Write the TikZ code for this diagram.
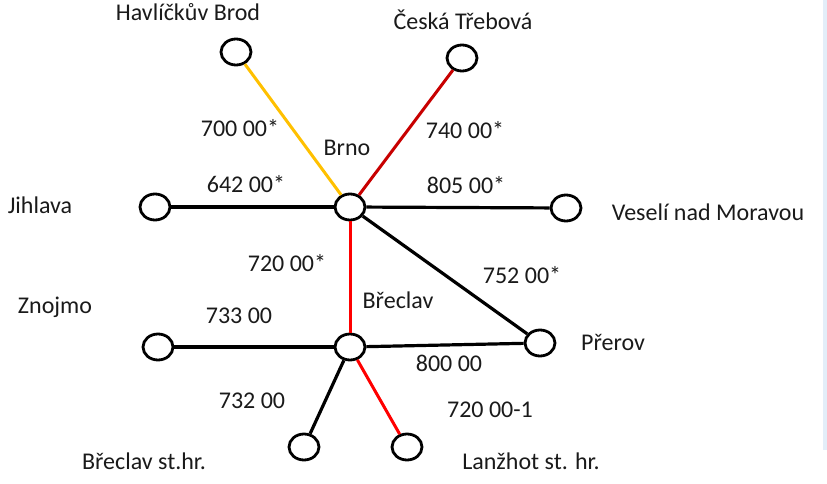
\documentclass[tikz,border=0pt]{standalone}
\usepackage{fontspec}
\setmainfont{Carlito}
\usetikzlibrary{shapes.geometric}
\definecolor{lnYellow}{HTML}{FFC000}
\definecolor{lnDarkRed}{HTML}{C80000}
\definecolor{lnRed}{HTML}{FF0000}
\definecolor{txtGrey}{HTML}{1A1A1A}
\definecolor{edgeBlue}{HTML}{E3EEF9}
\tikzset{
  % stations are open rings, tracks are plain thick strokes
  station/.style  = {ellipse, draw=black, fill=white, line width=2.8pt,
                     minimum width=30pt, minimum height=26pt, inner sep=0},
  track/.style    = {line width=3.2pt, black},
  trackY/.style   = {line width=3pt, lnYellow},
  trackDR/.style  = {line width=3pt, lnDarkRed},
  trackR/.style   = {line width=3pt, lnRed},
  lbl/.style      = {font=\fontsize{24}{28}\selectfont, text=txtGrey,
                     anchor=base, inner sep=0},
}

\begin{document}
\begin{tikzpicture}[x=1pt,y=-1pt]
  \useasboundingbox (0,0) rectangle (827,484);
  \fill[edgeBlue] (823,0) rectangle (827,450);
  % --- stations ----------------------------------------------------------
  \node[station] (havlbrod) at (236,52)  {};
  \node[station] (cesktreb) at (462,58)  {};
  \node[station] (brno)     at (350,207) {};
  \node[station] (jihlava)  at (155,207) {};
  \node[station] (veseli)   at (566,208) {};
  \node[station] (breclav)  at (350,347) {};
  \node[station] (znojmo)   at (158,347) {};
  \node[station] (prerov)   at (540,343) {};
  \node[station] (brstatnh) at (304,447) {};
  \node[station] (lanzhot)  at (407,447) {};
  % --- tracks ------------------------------------------------------------
  \draw[trackY]  (brno) -- (havlbrod);
  \draw[trackDR] (brno) -- (cesktreb);
  \draw[track]   (brno) -- (jihlava);
  \draw[track]   (brno) -- (veseli);
  \draw[trackR]  (brno) -- (breclav);
  \draw[track]   (brno) -- (prerov);
  \draw[track]   (breclav) -- (znojmo);
  \draw[track]   (breclav) -- (prerov);
  \draw[track]   (breclav) -- (brstatnh);
  \draw[trackR]  (breclav) -- (lanzhot);
  % --- station names -----------------------------------------------------
  \node[lbl] (nHavl) at (188,21)  {Havlíčkův Brod};
  \node[lbl] (nCesk) at (463,30)  {Česká Třebová};
  \node[lbl] (nBrno) at (347,155) {Brno};
  \node[lbl] (nJihl) at (40,213)  {Jihlava};
  \node[lbl] (nVese) at (708,220) {Veselí nad Moravou};
  \node[lbl] (nBrec) at (398,308) {Břeclav};
  \node[lbl] (nZnoj) at (55,313)  {Znojmo};
  \node[lbl] (nPrer) at (613,350) {Přerov};
  \node[lbl] (nBrSt) at (144,469) {Břeclav st.hr.};
  \node[lbl] (nLanz) at (531,469) {Lanžhot st. hr.};
  % --- line numbers ------------------------------------------------------
  \node[lbl] (l70000) at (240,136) {700 00*};
  \node[lbl] (l74000) at (465,139) {740 00*};
  \node[lbl] (l64200) at (246,192) {642 00*};
  \node[lbl] (l80500) at (466,193) {805 00*};
  \node[lbl] (l72000) at (287,271) {720 00*};
  \node[lbl] (l75200) at (522,283) {752 00*};
  \node[lbl] (l73300) at (239,323) {733 00};
  \node[lbl] (l80000) at (449,371) {800 00};
  \node[lbl] (l73200) at (252,408) {732 00};
  \node[lbl] (l72001) at (490,417) {720 00-1};
\end{tikzpicture}
\end{document}
